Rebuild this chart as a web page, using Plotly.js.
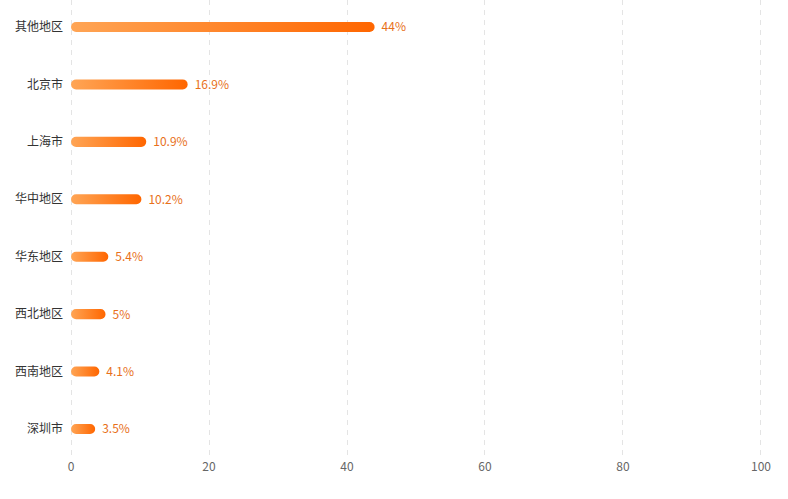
<!DOCTYPE html>
<html><head><meta charset="utf-8">
<script src="https://cdn.plot.ly/plotly-3.0.1.min.js"></script>
<style>html,body{margin:0;padding:0;background:#fff;}#chart{width:788px;height:499px;}</style>
</head><body><div id="chart"></div>
<script>
const regions = ["其他地区","北京市","上海市","华中地区","华东地区","西北地区","西南地区","深圳市"];
const shares = [44, 16.9, 10.9, 10.2, 5.4, 5, 4.1, 3.5];
const xTicks = [0, 20, 40, 60, 80, 100];

const font = '"Noto Sans CJK SC", "Noto Sans", sans-serif';
const gridColor = '#e4e4e4';
const trace = {
  type: 'bar', orientation: 'h',
  x: shares, y: regions,
  width: 0.175,
  marker: {color: '#FF8A30', line: {width: 0}},
  text: shares.map(v => v + '%'),
  textposition: 'outside',
  constraintext: 'none',
  textfont: {color: '#E8701A', size: 12, family: font},
  cliponaxis: false,
  hoverinfo: 'none'
};
const layout = {
  width: 788, height: 499,
  margin: {l: 70, r: 26, t: 0, b: 41},
  paper_bgcolor: '#fff', plot_bgcolor: '#fff',
  showlegend: false,
  font: {family: font, size: 12, color: '#333'},
  xaxis: {
    range: [-0.15, 100.15], tickvals: xTicks, ticktext: xTicks.map(String),
    showgrid: true, gridcolor: gridColor, griddash: '5px,5px', gridwidth: 1,
    zeroline: false, showline: false, ticks: '',
    tickfont: {color: '#666', size: 12, family: font}, fixedrange: true
  },
  yaxis: {
    type: 'category', autorange: false, range: [7.505, -0.47],
    showgrid: false, zeroline: false, showline: false, ticks: '',
    ticklabelstandoff: 6,
    tickfont: {color: '#333', size: 12, family: font}, fixedrange: true
  }
};
Plotly.newPlot('chart', [trace], layout, {displayModeBar: false, staticPlot: true}).then(gd => {
  const svg = gd.querySelector('svg.main-svg');
  const ns = 'http://www.w3.org/2000/svg';
  let defs = svg.querySelector('defs');
  const g = document.createElementNS(ns, 'linearGradient');
  g.setAttribute('id', 'barGrad');
  g.setAttribute('x1', '0'); g.setAttribute('y1', '0');
  g.setAttribute('x2', '1'); g.setAttribute('y2', '0');
  [['0', '#FFA555'], ['1', '#FF6600']].forEach(([o, c]) => {
    const s = document.createElementNS(ns, 'stop');
    s.setAttribute('offset', o); s.setAttribute('stop-color', c);
    g.appendChild(s);
  });
  defs.appendChild(g);
  gd.querySelectorAll('.barlayer .point path').forEach(p => {
    const b = p.getBBox();
    const r = Math.min(b.height / 2, b.width / 2);
    const x0 = b.x, x1 = b.x + b.width, y0 = b.y, y1 = b.y + b.height;
    p.setAttribute('d',
      `M${x0 + r},${y0}H${x1 - r}A${r},${r} 0 0 1 ${x1 - r},${y1}H${x0 + r}A${r},${r} 0 0 1 ${x0 + r},${y0}Z`);
    p.style.fill = 'url(#barGrad)';
  });
  gd.querySelectorAll('.barlayer .point text').forEach(t => {
    const tr = t.getAttribute('transform') || '';
    t.setAttribute('transform', 'translate(4,-1) ' + tr);
  });
});
</script></body></html>
